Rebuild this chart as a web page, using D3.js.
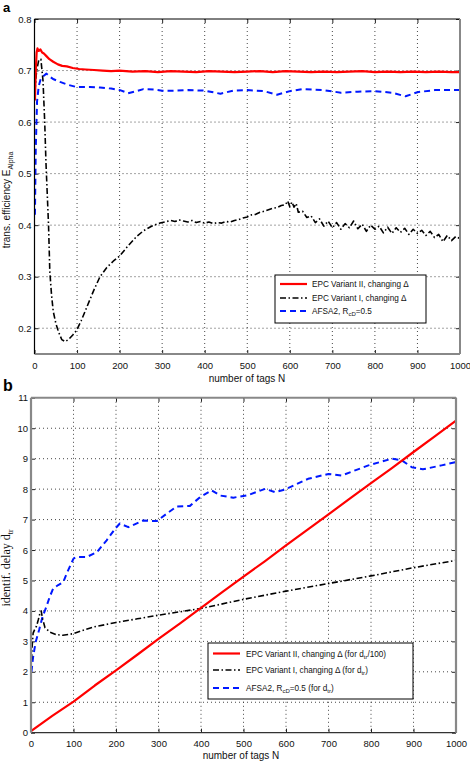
<!DOCTYPE html>
<html>
<head>
<meta charset="utf-8">
<script src="https://cdn.jsdelivr.net/npm/d3@7"></script>
<style>
  html, body { margin: 0; padding: 0; background: #fff; }
  svg { display: block; font-family: "Liberation Sans", Arial, sans-serif; }
</style>
</head>
<body>
<svg id="chart" width="470" height="761"></svg>
<script>
// ---------------- DATA ----------------
// Panel a: transmission efficiency
const xTicks = [0, 100, 200, 300, 400, 500, 600, 700, 800, 900, 1000];
const aYTicks = [0.2, 0.3, 0.4, 0.5, 0.6, 0.7, 0.8];
const bYTicks = [0, 1, 2, 3, 4, 5, 6, 7, 8, 9, 10, 11];

const aRedN = [1,3,5,7,10,14,18,22,28,35,44,55,65,76,90,105,120,140,160,180,200,230,260,290,320,350,380,410,440,470,500,530,560,590,620,650,680,710,740,770,800,830,860,890,920,950,980,1000];
const aRedV = [0.642,0.70,0.735,0.743,0.738,0.741,0.735,0.733,0.728,0.722,0.717,0.712,0.709,0.708,0.705,0.703,0.702,0.701,0.700,0.699,0.700,0.698,0.699,0.697,0.699,0.698,0.697,0.699,0.698,0.697,0.698,0.699,0.697,0.699,0.698,0.697,0.698,0.697,0.698,0.699,0.697,0.698,0.697,0.698,0.697,0.698,0.697,0.697];

const aBlackN = [1,5,10,15,20,24,27,30,33,36,40,44,50,56,64,72,80,90,99,110,125,140,154,170,185,200,220,240,256,275,295,310,320,330,340,350,360,370,380,390,400,410,420,430,440,450,460,470,480,490,500,510,520,530,540,550,560,570,580,590,595,600,605,610,615,620,630,640,650,660,670,680,690,700,710,720,730,740,750,760,770,780,790,800,810,820,830,840,850,860,870,880,890,900,910,920,930,940,950,960,970,980,990,1000];
const aBlackV = [0.66,0.70,0.72,0.722,0.68,0.60,0.52,0.46,0.40,0.31,0.265,0.233,0.21,0.194,0.178,0.174,0.178,0.187,0.196,0.215,0.245,0.275,0.30,0.318,0.33,0.340,0.36,0.378,0.389,0.398,0.404,0.407,0.409,0.407,0.410,0.408,0.406,0.409,0.405,0.407,0.404,0.406,0.403,0.405,0.404,0.407,0.406,0.409,0.411,0.414,0.416,0.420,0.421,0.425,0.427,0.430,0.433,0.434,0.438,0.440,0.447,0.436,0.445,0.435,0.442,0.425,0.427,0.415,0.418,0.405,0.412,0.398,0.408,0.395,0.405,0.392,0.403,0.395,0.408,0.393,0.402,0.388,0.400,0.392,0.398,0.385,0.396,0.384,0.395,0.386,0.394,0.382,0.392,0.384,0.390,0.380,0.388,0.376,0.382,0.368,0.380,0.370,0.378,0.374];

const aBlueN = [1,3,6,10,15,22,28,36,45,60,80,99,130,154,180,201,220,240,256,280,300,330,360,400,437,467,500,540,570,600,629,680,720,760,800,840,872,900,940,1000];
const aBlueV = [0.42,0.55,0.64,0.67,0.685,0.69,0.694,0.688,0.683,0.678,0.672,0.668,0.668,0.667,0.665,0.662,0.656,0.660,0.664,0.663,0.661,0.661,0.662,0.661,0.655,0.661,0.662,0.660,0.653,0.660,0.664,0.662,0.657,0.659,0.660,0.657,0.650,0.658,0.662,0.662];

// Panel b: identification delay
const bRedN = [0,50,100,150,200,250,300,350,400,450,500,550,600,650,700,750,800,850,900,950,1000];
const bRedV = [0.05,0.55,1.02,1.55,2.05,2.56,3.08,3.58,4.10,4.62,5.13,5.63,6.15,6.66,7.17,7.69,8.20,8.70,9.22,9.73,10.25];

const bBlackN = [1,3,5,9,13,17,21,24,27,33,45,60,75,99,120,146,175,200,250,300,350,400,500,600,700,800,900,1000];
const bBlackV = [2.38,2.9,3.27,3.4,3.5,3.7,3.92,4.0,3.75,3.45,3.3,3.22,3.2,3.25,3.35,3.47,3.55,3.62,3.74,3.86,3.97,4.08,4.38,4.65,4.9,5.15,5.42,5.66];

const bBlueN = [1,5,11,19,27,36,44,52,64,76,84,100,107,131,155,178,198,209,229,264,296,319,343,374,398,425,445,476,510,551,574,598,652,700,731,794,849,872,896,922,966,1000];
const bBlueV = [2.0,2.49,2.98,3.37,3.8,4.13,4.46,4.73,4.85,4.95,5.23,5.72,5.77,5.77,5.93,6.32,6.7,6.87,6.75,6.97,6.95,7.19,7.43,7.45,7.74,7.96,7.79,7.72,7.8,8.01,7.9,7.99,8.34,8.5,8.45,8.78,9.0,8.95,8.72,8.65,8.78,8.89];

// ---------------- DRAWING ----------------
const svg = d3.select("#chart");
const styles = {
  red:   { stroke: "#ff0000", width: 2.2, dash: null },
  black: { stroke: "#000000", width: 1.6, dash: "6,2.5,1.5,2.5" },
  blue:  { stroke: "#0018ff", width: 2.0, dash: "6,4" }
};

function panel(cfg) {
  const g = svg.append("g");
  const x = d3.scaleLinear().domain([0, 1000]).range([cfg.left, cfg.right]);
  const y = d3.scaleLinear().domain(cfg.yDomain).range([cfg.bottom, cfg.top]);

  // grid
  const grid = g.append("g");
  xTicks.slice(1, -1).forEach(t => {
    grid.append("line").attr("x1", x(t)).attr("x2", x(t)).attr("y1", cfg.top).attr("y2", cfg.bottom)
      .attr("stroke", "#333").attr("stroke-width", 0.9).attr("stroke-dasharray", "1,3");
  });
  cfg.yTicks.filter(t => t > cfg.yDomain[0] && t < cfg.yDomain[1]).forEach(t => {
    grid.append("line").attr("x1", cfg.left).attr("x2", cfg.right).attr("y1", y(t)).attr("y2", y(t))
      .attr("stroke", "#333").attr("stroke-width", 0.9).attr("stroke-dasharray", "1,3");
  });

  // axes
  const xAxis = d3.axisBottom(x).tickValues(xTicks).tickFormat(d3.format("d")).tickSizeInner(-4).tickSizeOuter(0).tickPadding(8);
  const gx = g.append("g").attr("transform", `translate(0,${cfg.bottom})`).call(xAxis);
  const yAxis = d3.axisLeft(y).tickValues(cfg.yTicks).tickFormat(cfg.yFormat).tickSizeInner(-4).tickSizeOuter(0).tickPadding(3);
  const gy = g.append("g").attr("transform", `translate(${cfg.left},0)`).call(yAxis);
  const xTop = d3.axisTop(x).tickValues(xTicks).tickFormat("").tickSizeInner(-4).tickSizeOuter(0);
  const gxt = g.append("g").attr("transform", `translate(0,${cfg.top})`).call(xTop);
  const yRight = d3.axisRight(y).tickValues(cfg.yTicks).tickFormat("").tickSizeInner(-4).tickSizeOuter(0);
  const gyr = g.append("g").attr("transform", `translate(${cfg.right},0)`).call(yRight);
  [gx, gy, gxt, gyr].forEach(a => {
    a.select(".domain").remove();
    a.selectAll(".tick line").attr("stroke", "#222");
    a.selectAll("text").attr("font-size", 9.5).attr("fill", "#111")
      .attr("font-family", "'Liberation Sans', Arial, sans-serif");
  });

  // curves
  const clipId = "clip" + cfg.name;
  svg.append("clipPath").attr("id", clipId).append("rect")
    .attr("x", cfg.left).attr("y", cfg.top).attr("width", cfg.right - cfg.left).attr("height", cfg.bottom - cfg.top);
  const line = d3.line().x(d => x(d[0])).y(d => y(d[1]));
  const cg = g.append("g").attr("clip-path", `url(#${clipId})`);
  cfg.series.forEach(s => {
    const st = styles[s.style];
    cg.append("path").datum(d3.zip(s.n, s.v)).attr("d", line)
      .attr("fill", "none").attr("stroke", st.stroke).attr("stroke-width", st.width)
      .attr("stroke-linejoin", "round")
      .attr("stroke-dasharray", st.dash);
  });

  // frame
  const fr = cfg.frame;
  g.append("line").attr("x1", cfg.left).attr("x2", cfg.right).attr("y1", cfg.top).attr("y2", cfg.top).attr("stroke", fr.top[0]).attr("stroke-width", fr.top[1]);
  g.append("line").attr("x1", cfg.left).attr("x2", cfg.right).attr("y1", cfg.bottom).attr("y2", cfg.bottom).attr("stroke", fr.bottom[0]).attr("stroke-width", fr.bottom[1]);
  g.append("line").attr("x1", cfg.left).attr("x2", cfg.left).attr("y1", cfg.top).attr("y2", cfg.bottom).attr("stroke", fr.left[0]).attr("stroke-width", fr.left[1]);
  g.append("line").attr("x1", cfg.right).attr("x2", cfg.right).attr("y1", cfg.top).attr("y2", cfg.bottom).attr("stroke", fr.right[0]).attr("stroke-width", fr.right[1]);

  return { g, x, y };
}

// ---- Panel a ----
panel({
  name: "a", left: 34.5, right: 460, top: 19, bottom: 354,
  yDomain: [0.15, 0.8], yTicks: aYTicks, yFormat: d3.format(".1f"),
  frame: { top: ["#000", 1], bottom: ["#888", 2], left: ["#000", 1.2], right: ["#888", 2] },
  series: [
    { n: aBlueN, v: aBlueV, style: "blue" },
    { n: aBlackN, v: aBlackV, style: "black" },
    { n: aRedN, v: aRedV, style: "red" }
  ]
});

// ---- Panel b ----
panel({
  name: "b", left: 31, right: 456, top: 397.8, bottom: 732.7,
  yDomain: [0, 11], yTicks: bYTicks, yFormat: d3.format("d"),
  frame: { top: ["#888", 2], bottom: ["#333", 1.2], left: ["#888", 2.2], right: ["#888", 2.2] },
  series: [
    { n: bBlueN, v: bBlueV, style: "blue" },
    { n: bBlackN, v: bBlackV, style: "black" },
    { n: bRedN, v: bRedV, style: "red" }
  ]
});

// Panel letters
svg.append("text").attr("x", 3).attr("y", 12).attr("font-size", 13).attr("font-weight", "bold").text("a");
svg.append("text").attr("x", 3).attr("y", 391).attr("font-size", 16).attr("font-weight", "bold").text("b");

// x labels
svg.append("text").attr("x", 247).attr("y", 382).attr("text-anchor", "middle").attr("font-size", 10).attr("fill", "#111").text("number of tags N");
svg.append("text").attr("x", 241).attr("y", 759).attr("text-anchor", "middle").attr("font-size", 10).attr("fill", "#111").text("number of tags N");

// y label a
const ya = svg.append("text").attr("transform", "translate(10,200) rotate(-90)").attr("text-anchor", "middle")
  .attr("font-size", 10).attr("fill", "#111");
ya.append("tspan").text("trans. efficiency E");
ya.append("tspan").attr("font-size", 7).attr("dy", 3).text("Alpha");

// y label b
const yb = svg.append("text").attr("transform", "translate(10,568) rotate(-90)").attr("text-anchor", "middle")
  .attr("font-size", 12).attr("fill", "#111").attr("font-family", "'Liberation Serif', 'Times New Roman', serif");
yb.append("tspan").text("identif. delay d\u0304");
yb.append("tspan").attr("font-size", 8).attr("dy", 3).text("tr");

// legends
function legend(box, rows) {
  const g = svg.append("g");
  g.append("rect").attr("x", box.x).attr("y", box.y).attr("width", box.w).attr("height", box.h)
    .attr("fill", "#fff").attr("stroke", "#000").attr("stroke-width", 1);
  rows.forEach((r, i) => {
    const yy = box.rowY[i];
    const st = styles[r.style];
    g.append("line").attr("x1", box.lx1).attr("x2", box.lx2).attr("y1", yy).attr("y2", yy)
      .attr("stroke", st.stroke).attr("stroke-width", st.width).attr("stroke-dasharray", st.dash);
    const t = g.append("text").attr("x", box.tx).attr("y", yy + 3).attr("font-size", 8.2).attr("fill", "#111");
    r.parts.forEach(p => {
      const sp = t.append("tspan").text(p.t);
      if (p.sub) sp.attr("font-size", 6).attr("dy", 2);
      if (p.up) sp.attr("dy", -2);
    });
  });
}

legend({ x: 275, y: 275, w: 151, h: 48, lx1: 280, lx2: 307, tx: 312, rowY: [284, 298, 311] }, [
  { style: "red", parts: [{ t: "EPC Variant II, changing Δ" }] },
  { style: "black", parts: [{ t: "EPC Variant I, changing Δ" }] },
  { style: "blue", parts: [{ t: "AFSA2, R" }, { t: "cD", sub: true }, { t: "=0.5", up: true }] }
]);

legend({ x: 208, y: 643, w: 205, h: 56, lx1: 213, lx2: 240, tx: 246, rowY: [653.5, 670, 688] }, [
  { style: "red", parts: [{ t: "EPC Variant II, changing Δ (for d" }, { t: "tr", sub: true }, { t: "/100)", up: true }] },
  { style: "black", parts: [{ t: "EPC Variant I, changing Δ (for d" }, { t: "tr", sub: true }, { t: ")", up: true }] },
  { style: "blue", parts: [{ t: "AFSA2, R" }, { t: "cD", sub: true }, { t: "=0.5 (for d", up: true }, { t: "tr", sub: true }, { t: ")", up: true }] }
]);
</script>
</body>
</html>
